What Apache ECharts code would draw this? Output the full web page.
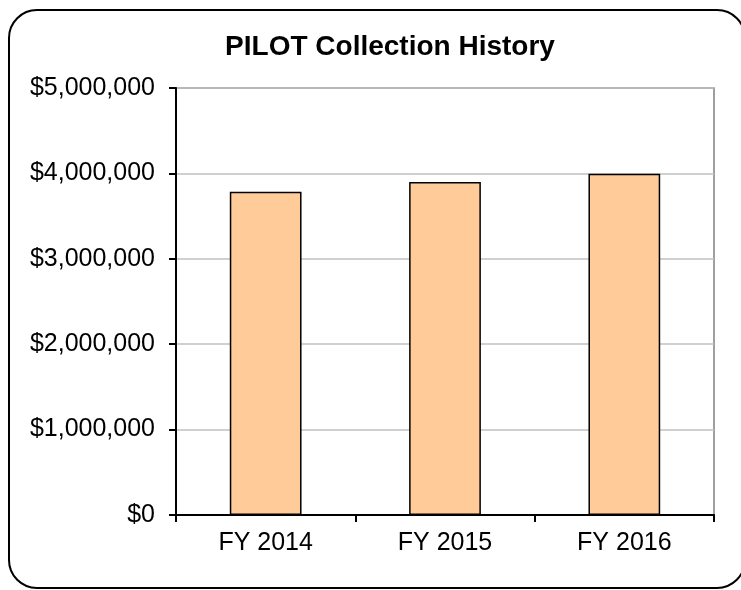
<!DOCTYPE html>
<html>
<head>
<meta charset="utf-8">
<script src="https://cdn.jsdelivr.net/npm/echarts@6/dist/echarts.min.js"></script>
<style>
  html, body { margin: 0; padding: 0; background: #fff; }
  #chart { width: 741px; height: 590px; }
</style>
</head>
<body>
<div id="chart"></div>
<script>
// fiscal years and PILOT collections
const years = ['FY 2014', 'FY 2015', 'FY 2016'];
const collections = [3785000, 3900000, 3995000];
const yTicks = [0, 1000000, 2000000, 3000000, 4000000, 5000000];

const myChart = echarts.init(document.getElementById('chart'));

const money = v => '$' + v.toLocaleString('en-US');

const option = {
  animation: false,
  textStyle: { fontFamily: 'Liberation Sans, Arial, sans-serif' },
  title: {
    text: 'PILOT Collection History',
    left: 385,
    top: 28,
    textAlign: 'center',
    textStyle: { fontSize: 28, fontWeight: 'bold', color: '#000', fontFamily: 'Liberation Sans, Arial, sans-serif' }
  },
  graphic: [{
    type: 'rect',
    shape: { x: 9, y: 10, width: 736, height: 578, r: 28 },
    style: { fill: 'none', stroke: '#000', lineWidth: 2 },
    silent: true
  }],
  grid: {
    left: 176, right: 27, top: 88, bottom: 75,
    show: true, borderColor: '#808080', borderWidth: 1.5, backgroundColor: '#fff'
  },
  xAxis: {
    type: 'category',
    data: years,
    axisLine: { lineStyle: { color: '#000', width: 2 } },
    axisTick: { show: true, length: 7, lineStyle: { color: '#000', width: 2 } },
    axisLabel: { fontSize: 25, color: '#000', margin: 16 }
  },
  yAxis: {
    type: 'value',
    min: yTicks[0],
    max: yTicks[yTicks.length - 1],
    interval: yTicks[1] - yTicks[0],
    axisLine: { show: true, lineStyle: { color: '#000', width: 2 } },
    axisTick: { show: true, length: 7, lineStyle: { color: '#000', width: 2 } },
    axisLabel: { fontSize: 25, color: '#000', margin: 21, formatter: money },
    splitLine: { lineStyle: { color: '#c0c0c0', width: 1.5 } }
  },
  series: [{
    type: 'bar',
    data: collections,
    barWidth: '40%',
    itemStyle: { color: '#FFCC99', borderColor: '#000', borderWidth: 1.5 }
  }]
};

myChart.setOption(option);
</script>
</body>
</html>
